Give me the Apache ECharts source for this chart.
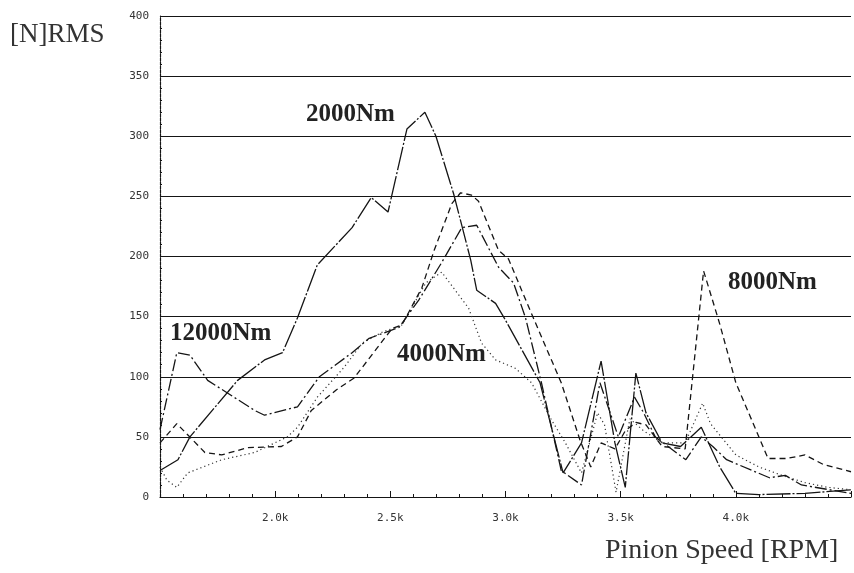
<!DOCTYPE html>
<html><head><meta charset="utf-8">
<script src="https://cdn.jsdelivr.net/npm/echarts@6/dist/echarts.min.js"></script>
<style>html,body{margin:0;padding:0;background:#fff}#c{width:854px;height:573px}</style>
</head><body><div id="c"></div>
<script>
// ---- data ----
const rpm2000 = [1500,1578,1630,1837,1954,2032,2097,2183,2334,2417,2490,2572,2650,2698,2775,2849,2875,2957,3000,3150,3250,3330,3415,3475,3520,3566,3610,3680,3760,3850,3930,4000,4100,4300,4500];
const val2000 = [22,31,50,97,114,120,149,193,224,249,237,306,320,300,252,197,172,161,147,95,20,45,113,45,8,103,70,45,42,58,25,3,2,3,6];

const rpm4000 = [1500,1530,1573,1620,1768,1911,2053,2097,2183,2300,2378,2464,2550,2654,2723,2840,2896,2957,3043,3113,3200,3260,3330,3400,3430,3480,3540,3600,3680,3780,3856,3890,4000,4100,4200,4300,4400,4500];
const val4000 = [25,14,8,20,31,37,50,58,83,108,128,137,143,178,187,157,128,114,107,95,64,45,20,70,60,4,65,55,45,45,78,61,35,25,18,12,8,6];

const rpm8000 = [1500,1573,1695,1768,1880,2027,2097,2157,2265,2343,2507,2550,2637,2690,2767,2805,2853,2883,2970,3013,3070,3143,3242,3324,3370,3415,3475,3520,3566,3610,3680,3780,3860,3930,4000,4140,4220,4300,4380,4500];
const val8000 = [45,61,37,35,41,42,50,72,89,99,140,143,174,205,244,253,251,246,205,198,172,139,95,47,25,45,40,55,62,60,42,40,188,144,95,32,32,35,27,21];

const rpm12000 = [1500,1573,1630,1707,1911,1954,2097,2192,2334,2408,2538,2624,2723,2810,2875,2970,3035,3087,3156,3242,3330,3410,3490,3560,3600,3650,3783,3850,3900,3960,4146,4215,4285,4500];
const val12000 = [56,120,118,97,72,68,75,100,120,132,141,164,195,224,226,191,178,149,95,22,10,95,50,83,70,50,31,50,42,31,16,18,10,3];

const xTickValues = [2000,2500,3000,3500,4000];
const xTickLabels = ['2.0k','2.5k','3.0k','3.5k','4.0k'];
const yTickValues = [0,50,100,150,200,250,300,350,400];

const seriesNames = ['2000Nm','4000Nm','8000Nm','12000Nm'];

// ---- chart ----
const chart = echarts.init(document.getElementById('c'), null, {renderer:'canvas'});
const pair = (xs, ys) => xs.map((x,i)=>[x, ys[i]]);
const ink = '#151515';

const option = {
  backgroundColor:'#ffffff',
  animation:false,
  grid:{left:160, right:0, top:16, bottom:76},
  xAxis:{
    type:'value', min:1500, max:4500, interval:500,
    axisLine:{show:true, lineStyle:{color:ink, width:1.2}},
    axisTick:{show:true, inside:true, length:6, lineStyle:{color:ink}},
    minorTick:{show:true, splitNumber:5, length:3, lineStyle:{color:ink}},
    splitLine:{show:false},
    axisLabel:{
      margin:16, color:'#333', fontFamily:'DejaVu Sans Mono', fontSize:11,
      formatter:v=>{const i=xTickValues.indexOf(v); return i>=0?xTickLabels[i]:'';}
    }
  },
  yAxis:{
    type:'value', min:0, max:400, interval:50,
    axisLine:{show:true, lineStyle:{color:ink, width:1.2, type:[3,1]}},
    axisTick:{show:true, inside:true, length:5, lineStyle:{color:ink}},
    minorTick:{show:true, splitNumber:5, length:2, lineStyle:{color:ink}},
    splitLine:{show:true, lineStyle:{color:ink, width:1.2}},
    axisLabel:{
      margin:11, color:'#333', fontFamily:'DejaVu Sans Mono', fontSize:11,
      formatter:v=>yTickValues.indexOf(v)>=0?String(v):''
    }
  },
  graphic:[
    {type:'text', left:10, top:21, style:{text:'[N]RMS', font:'27px "Liberation Serif"', fill:'#333'}},
    {type:'text', left:605, top:537, style:{text:'Pinion Speed [RPM]', font:'28px "Liberation Serif"', fill:'#333'}},
    {type:'text', left:306, top:102, style:{text:seriesNames[0], font:'bold 25px "Liberation Serif"', fill:'#222'}},
    {type:'text', left:170, top:321, style:{text:seriesNames[3], font:'bold 25px "Liberation Serif"', fill:'#222'}},
    {type:'text', left:397, top:342, style:{text:seriesNames[1], font:'bold 25px "Liberation Serif"', fill:'#222'}},
    {type:'text', left:728, top:270, style:{text:seriesNames[2], font:'bold 25px "Liberation Serif"', fill:'#222'}}
  ],
  series:[
    {name:seriesNames[0], type:'line', symbol:'none', data:pair(rpm2000,val2000),
     lineStyle:{color:ink, width:1.3, type:[24,2,2,2]}},
    {name:seriesNames[1], type:'line', symbol:'none', data:pair(rpm4000,val4000),
     lineStyle:{color:'#333', width:1.2, type:[1.2,3]}},
    {name:seriesNames[2], type:'line', symbol:'none', data:pair(rpm8000,val8000),
     lineStyle:{color:ink, width:1.3, type:[6,4]}},
    {name:seriesNames[3], type:'line', symbol:'none', data:pair(rpm12000,val12000),
     lineStyle:{color:ink, width:1.3, type:[12,3,2,3]}}
  ]
};
chart.setOption(option);
</script>
</body></html>
